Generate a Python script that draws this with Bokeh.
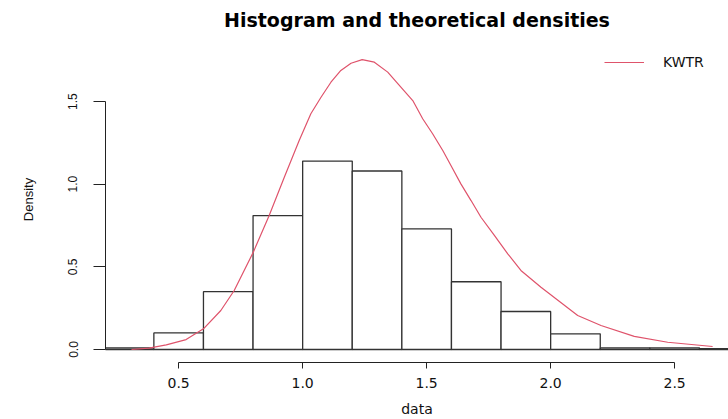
from bokeh.plotting import figure
from bokeh.models import (Range1d, FixedTicker, PrintfTickFormatter, Legend, LegendItem)
from bokeh.embed import file_html
from bokeh.resources import INLINE

# ---- data ----
bin_edges = [0.2, 0.4, 0.6, 0.8, 1.0, 1.2, 1.4, 1.6, 1.8, 2.0, 2.2, 2.4, 2.6, 2.8]
densities = [0.01, 0.10, 0.35, 0.81, 1.14, 1.08, 0.73, 0.41, 0.23, 0.095, 0.01, 0.01, 0.005]

curve_x = [0.31, 0.38, 0.45, 0.53, 0.60, 0.67, 0.724, 0.801, 0.865, 0.926, 0.986, 1.033,
           1.074, 1.114, 1.154, 1.195, 1.24, 1.289, 1.343, 1.396, 1.444, 1.484, 1.524,
           1.565, 1.605, 1.638, 1.679, 1.719, 1.773, 1.827, 1.88, 1.961, 2.109, 2.203,
           2.337, 2.472, 2.653]
curve_y = [0.0, 0.008, 0.028, 0.06, 0.125, 0.236, 0.357, 0.589, 0.811, 1.042, 1.264, 1.426,
           1.526, 1.617, 1.688, 1.732, 1.754, 1.738, 1.678, 1.587, 1.506, 1.396, 1.305,
           1.204, 1.093, 1.002, 0.901, 0.800, 0.690, 0.579, 0.478, 0.377, 0.206, 0.145,
           0.079, 0.044, 0.018]

x_ticks = [0.5, 1.0, 1.5, 2.0, 2.5]
y_ticks = [0.0, 0.5, 1.0, 1.5]
series_name = "KWTR"
title_text = "Histogram and theoretical densities"

# ---- figure ----
W, H = 728, 419
left, bottom, top = 105, 57, 36
p = figure(width=W, height=H, output_backend="svg", toolbar_location=None,
           min_border_left=left, min_border_right=0, min_border_top=top,
           min_border_bottom=bottom,
           x_range=Range1d(0.205, 0.205 + (W - left) / 248.0),
           y_range=Range1d(-13 / 165.3, (349 - top) / 165.3),
           background_fill_color="white", border_fill_color="white",
           outline_line_color=None)

p.title.text = title_text
p.title.align = "center"
p.title.vertical_align = "middle"
p.title.text_font = "DejaVu Sans"
p.title.text_font_style = "bold"
p.title.text_font_size = "19px"
p.title.text_color = "#000000"

p.xgrid.visible = False
p.ygrid.visible = False

p.quad(left=bin_edges[:-1], right=bin_edges[1:], bottom=0, top=densities,
       fill_color="white", line_color="#333333", line_width=1.3)

curve = p.line(curve_x, curve_y, line_color="#DF536B", line_width=1.2)

# x axis
xa = p.xaxis[0]
xa.ticker = FixedTicker(ticks=x_ticks)
xa.formatter = PrintfTickFormatter(format="%.1f")
xa.bounds = (x_ticks[0], x_ticks[-1])
xa.axis_line_color = "#222222"
xa.major_tick_line_color = "#222222"
xa.major_tick_out = 6
xa.major_tick_in = 0
xa.minor_tick_line_color = None
xa.major_label_text_font = "DejaVu Sans"
xa.major_label_text_font_size = "14px"
xa.major_label_text_color = "#111111"
xa.major_label_standoff = 9
xa.axis_label = "data"
xa.axis_label_text_font = "DejaVu Sans"
xa.axis_label_text_font_size = "14px"
xa.axis_label_text_font_style = "normal"
xa.axis_label_text_color = "#111111"
xa.axis_label_standoff = 10

# y axis
ya = p.yaxis[0]
ya.ticker = FixedTicker(ticks=y_ticks)
ya.formatter = PrintfTickFormatter(format="%.1f")
ya.bounds = (y_ticks[0], y_ticks[-1])
ya.axis_line_color = "#222222"
ya.major_tick_line_color = "#222222"
ya.major_tick_out = 12
ya.major_tick_in = 0
ya.minor_tick_line_color = None
ya.major_label_orientation = "vertical"
ya.major_label_text_font = "Liberation Sans"
ya.major_label_text_font_size = "12px"
ya.major_label_text_color = "#111111"
ya.major_label_standoff = 16
ya.axis_label = "Density"
ya.axis_label_text_font = "Liberation Sans"
ya.axis_label_text_font_size = "13px"
ya.axis_label_text_font_style = "normal"
ya.axis_label_text_color = "#111111"
ya.axis_label_standoff = 30

legend = Legend(items=[LegendItem(label=series_name, renderers=[curve])],
                location=(499, 292), border_line_color=None,
                background_fill_alpha=0, glyph_width=40, glyph_height=14,
                label_standoff=19, padding=0, margin=0, spacing=0,
                label_text_font="DejaVu Sans", label_text_font_size="14px",
                label_text_color="#111111")
p.add_layout(legend)

open("out.html", "w").write(file_html(p, INLINE))
